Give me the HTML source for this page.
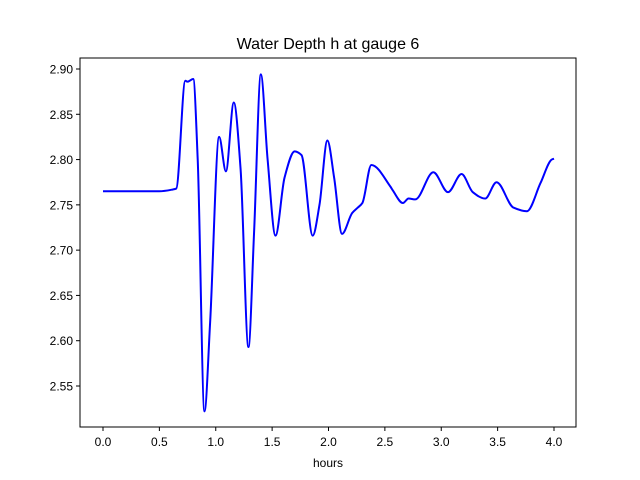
<!DOCTYPE html>
<html><head><meta charset="utf-8"><style>
body{margin:0;background:#fff;}
svg{display:block;font-family:"Liberation Sans","DejaVu Sans",sans-serif;}
</style></head><body>
<svg id="chart" width="640" height="480">
<text x="328" y="49" text-anchor="middle" font-size="16">Water Depth h at gauge 6</text>
<text x="328" y="467" text-anchor="middle" font-size="12">hours</text>
<g id="ticks"></g>
<path id="line" fill="none" stroke="#0000ff" stroke-width="2"/>
<rect x="80" y="58" width="496" height="369" fill="none" stroke="#000" stroke-width="1"/>
</svg>
<script>
const xTicks=[0,0.5,1,1.5,2,2.5,3,3.5,4];
const xTickLabels=["0.0","0.5","1.0","1.5","2.0","2.5","3.0","3.5","4.0"];
const yTicks=[2.55,2.60,2.65,2.70,2.75,2.80,2.85,2.90];
const yTickLabels=["2.55","2.60","2.65","2.70","2.75","2.80","2.85","2.90"];
const hours=[0,0.3,0.5,0.62,0.65,0.73,0.75,0.80,0.84,0.90,0.95,1.03,1.09,1.16,1.22,1.29,1.34,1.40,1.46,1.53,1.61,1.70,1.76,1.86,1.92,1.99,2.05,2.12,2.21,2.26,2.30,2.38,2.55,2.57,2.66,2.71,2.77,2.93,3.06,3.18,3.28,3.39,3.49,3.64,3.76,3.88,3.98,4.0];
const depth=[2.765,2.765,2.765,2.767,2.768,2.887,2.886,2.889,2.80,2.522,2.62,2.825,2.787,2.863,2.79,2.593,2.72,2.894,2.80,2.716,2.78,2.809,2.805,2.716,2.75,2.821,2.78,2.718,2.741,2.747,2.752,2.794,2.770,2.766,2.752,2.757,2.756,2.786,2.764,2.784,2.764,2.757,2.775,2.747,2.743,2.774,2.800,2.801];
const X=v=>103+(v-0)*112.75;
const Y=v=>69+(2.90-v)*905.7;
const NS="http://www.w3.org/2000/svg";
const g=document.getElementById('ticks');
function mk(t,a){const e=document.createElementNS(NS,t);for(const k in a)e.setAttribute(k,a[k]);g.appendChild(e);return e;}
xTicks.forEach((v,i)=>{
 const l=mk('line',{x1:X(v),x2:X(v),y1:427,y2:431,stroke:'#000'});
 
 
 const t=mk('text',{x:X(v),y:446,'text-anchor':'middle','font-size':12});
 t.textContent=xTickLabels[i];
 
 
});
yTicks.forEach((v,i)=>{
 const l=mk('line',{x1:76,x2:80,y1:Y(v),y2:Y(v),stroke:'#000'});
 
 
 const t=mk('text',{x:73,y:Y(v)+4.5,'text-anchor':'end','font-size':12});
 t.textContent=yTickLabels[i];
 
 
});
// monotone cubic (Fritsch-Carlson) in pixel space
const px=hours.map(X), py=depth.map(Y), n=px.length;
const dx=[],s=[];
for(let i=0;i<n-1;i++){dx.push(px[i+1]-px[i]);s.push((py[i+1]-py[i])/dx[i]);}
const m=new Array(n);
m[0]=s[0];m[n-1]=s[n-2];
for(let i=1;i<n-1;i++){
 if(s[i-1]*s[i]<=0)m[i]=0;
 else{const w1=2*dx[i]+dx[i-1],w2=dx[i]+2*dx[i-1];m[i]=(w1+w2)/(w1/s[i-1]+w2/s[i]);}
}
let d='M'+px[0]+','+py[0];
for(let i=0;i<n-1;i++){
 const h=dx[i]/3;
 d+=` C${px[i]+h},${py[i]+m[i]*h} ${px[i+1]-h},${py[i+1]-m[i+1]*h} ${px[i+1]},${py[i+1]}`;
}
document.getElementById('line').setAttribute('d',d);
</script>
</body></html>
